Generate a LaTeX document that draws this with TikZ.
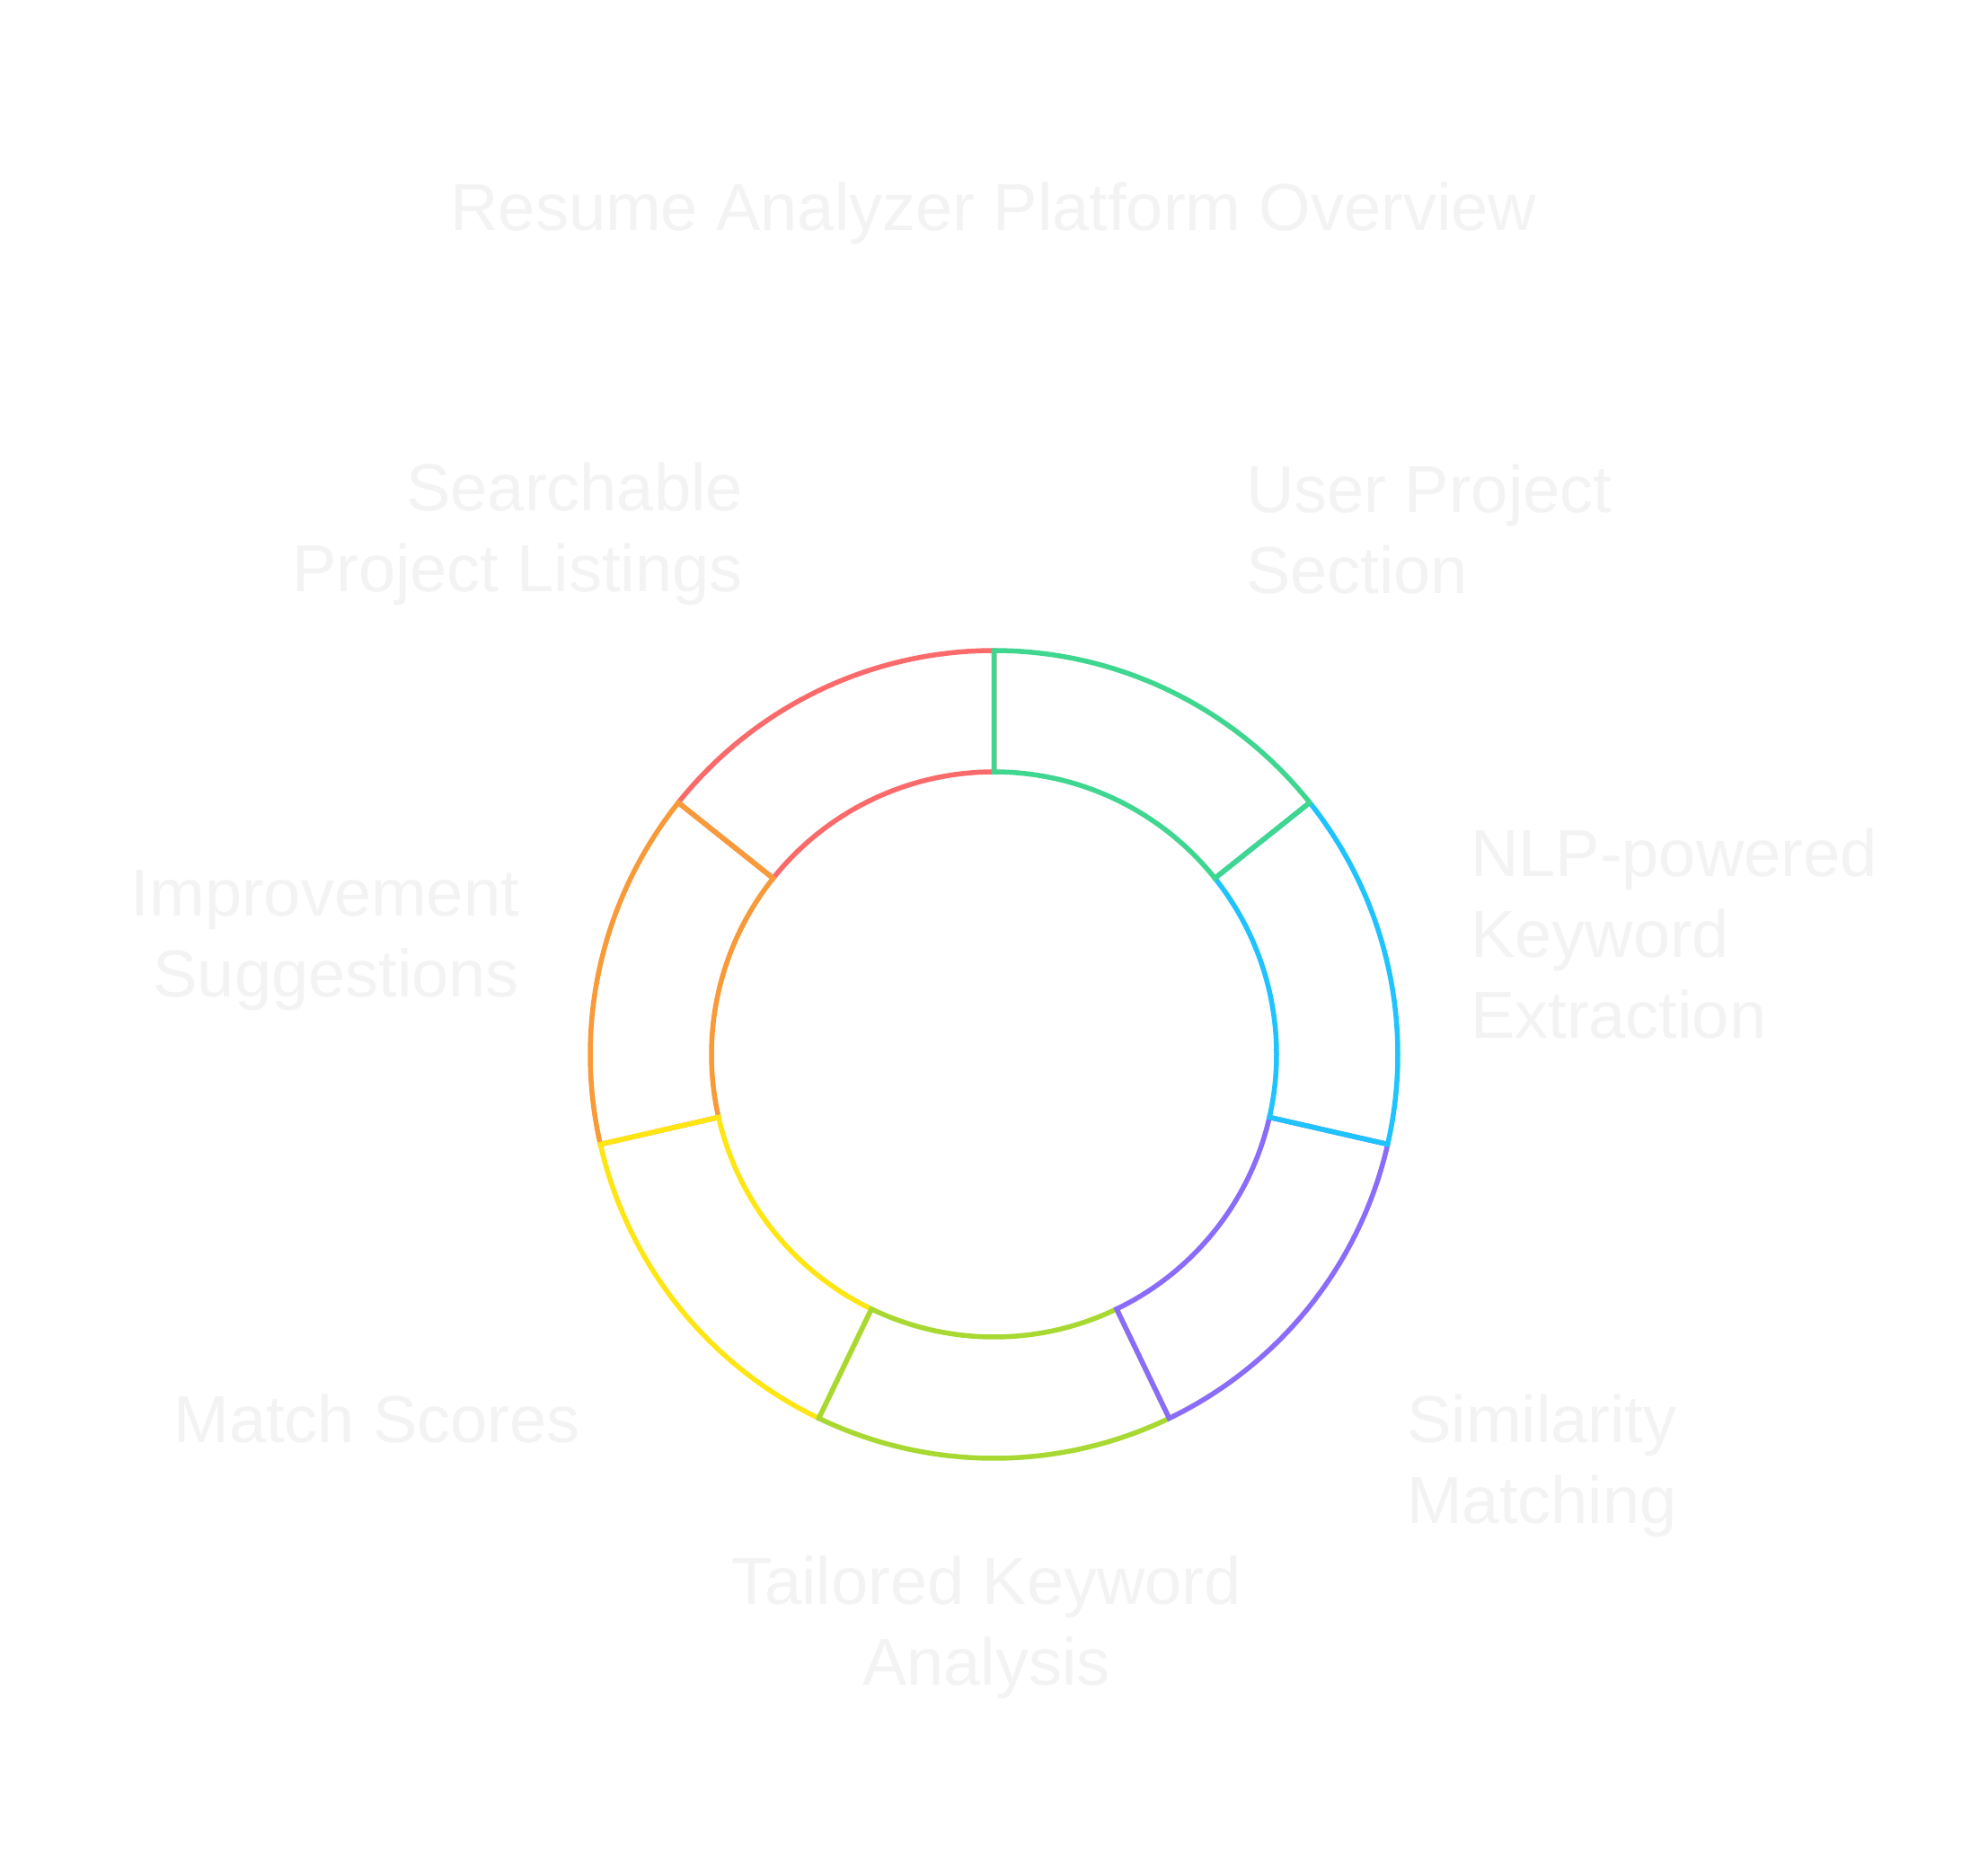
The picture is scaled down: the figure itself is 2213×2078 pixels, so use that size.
\documentclass[tikz,border=0pt]{standalone}
\usepackage{fontspec}
\setmainfont{Liberation Sans}
\definecolor{tagtextgray}{HTML}{F3F3F4}
\definecolor{segA}{HTML}{3FD68F}
\definecolor{segB}{HTML}{1EC3FF}
\definecolor{segC}{HTML}{8B6CFA}
\definecolor{segD}{HTML}{A8D832}
\definecolor{segE}{HTML}{FFE511}
\definecolor{segF}{HTML}{F89A38}
\definecolor{segG}{HTML}{FA6A6A}
\begin{document}
\begin{tikzpicture}[x=1pt,y=-1pt,
  tagtext/.style={text=tagtextgray, inner sep=0pt, font=\fontsize{74}{90}\selectfont},
  ringseg/.style={line width=5.5pt, line join=miter}]
\useasboundingbox (0,0) rectangle (2213,2078);
\fill[white] (0,0) rectangle (2213,2078);

% ring of seven segments, drawn so each segment's leading divider stays on top
\begin{scope}[shift={(1106.5,1173.5)}, yscale=-1]
  \foreach \k/\col in {7/segG,6/segF,5/segE,4/segD,3/segC,2/segB,1/segA}{
    \pgfmathsetmacro{\a}{90-(\k-1)*360/7}
    \pgfmathsetmacro{\b}{90-\k*360/7}
    \draw[ringseg, draw=\col] (\a:449.5) arc[start angle=\a, end angle=\b, radius=449.5]
      -- (\b:314.5) arc[start angle=\b, end angle=\a, radius=314.5] -- cycle;
  }
\end{scope}

% title and segment captions (multi-line captions are placed by their last baseline)
\node[tagtext, anchor=base] (title) at (1106,256) {Resume Analyzer Platform Overview};
\node[tagtext, anchor=base west, align=left] (user) at (1387,660) {User Project\\Section};
\node[tagtext, anchor=base west, align=left] (nlp) at (1637,1155) {NLP-powered\\Keyword\\Extraction};
\node[tagtext, anchor=base west, align=left] (sim) at (1566,1695) {Similarity\\Matching};
\node[tagtext, anchor=base, align=center] (tailored) at (1098,1875) {Tailored Keyword\\Analysis};
\node[tagtext, anchor=base east, align=right] (match) at (646,1605) {Match Scores};
\node[tagtext, anchor=base east, align=right] (improve) at (578,1109) {Improvement\\Suggestions};
\node[tagtext, anchor=base east, align=right] (search) at (827,658) {Searchable\\Project Listings};
\end{tikzpicture}
\end{document}
